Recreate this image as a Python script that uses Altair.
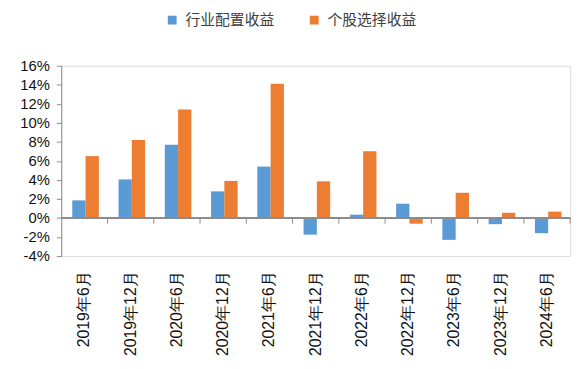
import altair as alt
import pandas as pd

categories = ["2019年6月", "2019年12月", "2020年6月", "2020年12月", "2021年6月", "2021年12月",
              "2022年6月", "2022年12月", "2023年6月", "2023年12月", "2024年6月"]
industry = [1.85, 4.05, 7.7, 2.8, 5.4, -1.75, 0.35, 1.5, -2.3, -0.65, -1.6]
stock = [6.5, 8.2, 11.4, 3.9, 14.1, 3.85, 7.0, -0.6, 2.65, 0.55, 0.67]
series_names = ["行业配置收益", "个股选择收益"]
colors = ["#5B9BD5", "#ED7D31"]
y_ticks = [-4, -2, 0, 2, 4, 6, 8, 10, 12, 14, 16]

rows = []
for c, a, b in zip(categories, industry, stock):
    rows.append({"cat": c, "series": series_names[0], "value": a})
    rows.append({"cat": c, "series": series_names[1], "value": b})
df = pd.DataFrame(rows)
cat_df = pd.DataFrame({"cat": categories})

FONT = "Liberation Sans"
AXIS_GRAY = "#8c8c8c"

xscale = alt.Scale(domain=categories, paddingInner=0, paddingOuter=0)
yscale = alt.Scale(domain=[-4, 16], nice=False, zero=False)
xaxis = alt.Axis(domain=False, ticks=False, labelAngle=270, labelPadding=15,
                 labelFont=FONT, labelFontSize=16, labelColor="#111111",
                 labelOverlap=False)
yaxis = alt.Axis(values=y_ticks, labelExpr="datum.value + '%'", grid=False,
                 domainColor=AXIS_GRAY, tickColor=AXIS_GRAY, tickSize=5,
                 labelPadding=7, labelFont=FONT, labelFontSize=15,
                 labelColor="#111111", labelOverlap=False)

bars = alt.Chart(df).mark_bar().encode(
    x=alt.X("cat:N", sort=categories, scale=xscale, title=None, axis=xaxis),
    xOffset=alt.XOffset("series:N", sort=series_names,
                        scale=alt.Scale(paddingInner=0, paddingOuter=0.74, align=0.56)),
    y=alt.Y("value:Q", scale=yscale, title=None, axis=yaxis),
    color=alt.Color("series:N", sort=series_names,
                    scale=alt.Scale(domain=series_names, range=colors),
                    legend=alt.Legend(title=None, orient="none", direction="horizontal",
                                      legendX=105, legendY=-54, symbolType="square",
                                      symbolSize=80, symbolStrokeWidth=0,
                                      labelFont="Noto Sans CJK SC", labelFontSize=15,
                                      labelColor="#404040", columnPadding=32,
                                      labelOffset=6, padding=0)),
)

zero = alt.Chart(cat_df).mark_rule(color=AXIS_GRAY, strokeWidth=1).encode(
    y=alt.YDatum(0, scale=yscale, title=None, axis=yaxis)
)

ticks = alt.Chart(cat_df).mark_rule(color=AXIS_GRAY, strokeWidth=1).encode(
    x=alt.X("cat:N", sort=categories, scale=xscale, bandPosition=1, title=None, axis=xaxis),
    y=alt.YDatum(0, scale=yscale, title=None, axis=yaxis),
    y2=alt.Y2Datum(-0.6),
)

chart = alt.layer(bars, zero, ticks).properties(
    width=516, height=193,
    autosize=alt.AutoSizeParams(type="none"),
    padding={"left": 54, "top": 56, "right": 10, "bottom": 112},
).configure_view(strokeWidth=0, stroke="transparent").configure(background="white")

chart.save("out.html", embed_options={"renderer": "svg", "actions": False})
